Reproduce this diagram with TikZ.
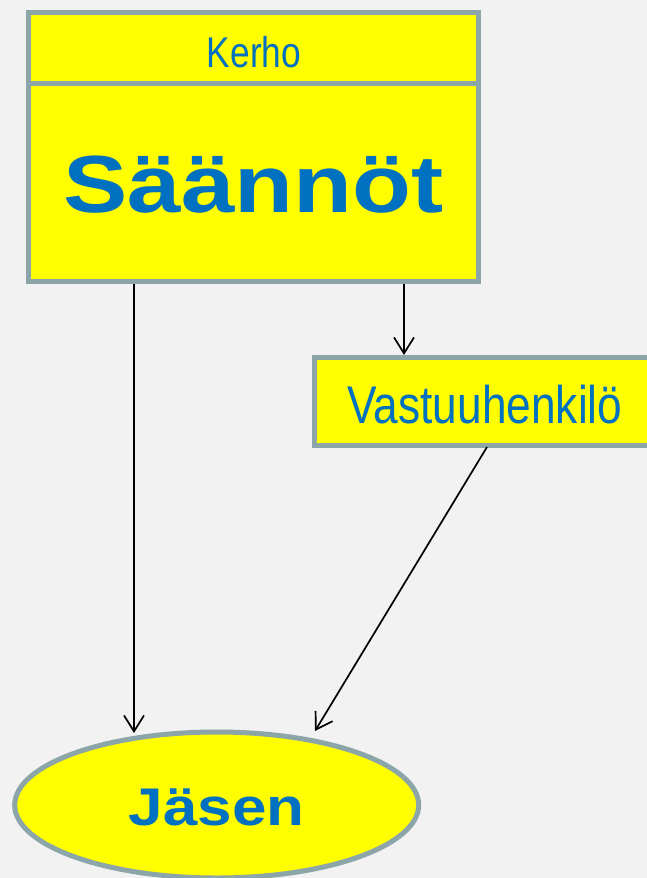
\documentclass[tikz,border=0pt]{standalone}
\usepackage{fontspec}
\setmainfont{Liberation Sans}
\newfontfamily\narrowfont[FakeStretch=0.82]{Liberation Sans}
\newfontfamily\narrowerfont[FakeStretch=0.835]{Liberation Sans}
\newfontfamily\widefont[FakeStretch=1.19]{Liberation Sans}
\newfontfamily\wideJfont[FakeStretch=1.17]{Liberation Sans}
\usetikzlibrary{arrows.meta,shapes.geometric}
\definecolor{bgc}{RGB}{242,242,242}
\definecolor{boxfill}{RGB}{255,255,0}
\definecolor{boxline}{RGB}{139,165,168}
\definecolor{txtblue}{RGB}{0,112,192}
\tikzset{
  box/.style={draw=boxline, fill=boxfill, line width=5pt, inner sep=0pt, rectangle},
  ell/.style={draw=boxline, fill=boxfill, line width=5pt, inner sep=0pt, ellipse},
  lbl/.style={text=txtblue, inner sep=0pt, anchor=base},
  arr/.style={draw=black, line width=1.7pt, -{Straight Barb[length=16pt,width=20pt,line width=1.7pt]}}
}
\begin{document}
\begin{tikzpicture}[x=1pt,y=-1pt]
\fill[bgc] (0,0) rectangle (647,878);
\useasboundingbox (0,0) rectangle (647,878);
\begin{scope}
\clip (0,0) rectangle (647,878);
% top box
\node[box, minimum width=450pt, minimum height=269pt] (top) at (253.5,146.5) {};
\draw[boxline, line width=5pt] ([yshift=-74pt]top.north west) -- ([yshift=-74pt]top.north east);
\node[lbl, font=\narrowfont\fontsize{43}{43}\selectfont] (kerho) at (254,67) {Kerho};
\node[lbl, font=\widefont\bfseries\fontsize{81}{81}\selectfont] (saannot) at (253.5,212) {Säännöt};
% Vastuuhenkilo box
\node[box, minimum width=346pt, minimum height=88pt] (vast) at (487.5,401) {};
\node[lbl, font=\narrowerfont\fontsize{53}{53}\selectfont] (vasttxt) at (485,423) {Vastuuhenkilö};
% Jasen ellipse
\node[ell, minimum width=404pt, minimum height=146pt] (jasen) at (216.7,805) {};
\node[lbl, font=\wideJfont\bfseries\fontsize{53}{53}\selectfont] (jastxt) at (216.5,825) {Jäsen};
% arrow ends
\coordinate (j1) at (134,733);
\coordinate (j2) at (315,731);
\coordinate (v1) at (404,355);
\coordinate (s3) at (487,447);
\draw[arr] (top.south -| j1) -- (j1);
\draw[arr] (top.south -| v1) -- (v1);
\draw[arr] (s3) -- (j2);
\end{scope}
\end{tikzpicture}
\end{document}
